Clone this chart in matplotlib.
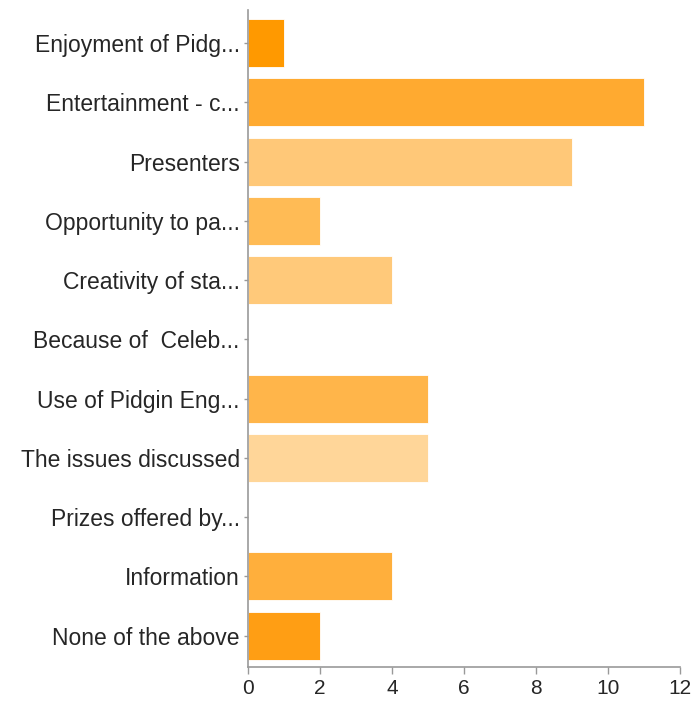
import matplotlib
matplotlib.use("Agg")
import matplotlib.pyplot as plt

# survey answers, top to bottom
categories = [
    "Enjoyment of Pidg...",
    "Entertainment - c...",
    "Presenters",
    "Opportunity to pa...",
    "Creativity of sta...",
    "Because of  Celeb...",
    "Use of Pidgin Eng...",
    "The issues discussed",
    "Prizes offered by...",
    "Information",
    "None of the above",
]
counts = [1, 11, 9, 2, 4, 0, 5, 5, 0, 4, 2]
bar_colors = [
    "#FF9900", "#FFAA30", "#FFC878", "#FFBB55", "#FFC97A", "#FFC97A",
    "#FFB54A", "#FFD699", "#FFD699", "#FFAF3C", "#FF9E14",
]
x_ticks = [0, 2, 4, 6, 8, 10, 12]

plt.rcParams['font.family'] = ['Liberation Sans', 'DejaVu Sans']

fig = plt.figure(figsize=(6.97, 7.02), dpi=100)
ax = fig.add_axes([0.3558, 0.0499, 0.62, 0.9359])

pos = list(range(len(categories)))
ax.barh(pos, counts, height=0.81, color=bar_colors, edgecolor="white",
        linewidth=0.6)

ax.set_ylim(len(categories) - 0.47, -0.56)
ax.set_xlim(0, 12)
ax.set_yticks(pos)
ax.set_yticklabels(categories, fontsize=16.5, color="#262626")
ax.set_xticks(x_ticks)
ax.set_xticklabels([str(t) for t in x_ticks], fontsize=15, color="#262626")

for side in ("top", "right"):
    ax.spines[side].set_visible(False)
for side in ("left", "bottom"):
    ax.spines[side].set_color("#999999")
    ax.spines[side].set_linewidth(1.2)

ax.tick_params(axis="y", length=3, width=1, color="#999999", pad=3)
ax.tick_params(axis="x", length=5, width=1, color="#999999", pad=4)

fig.savefig("out.png", dpi=100, facecolor="white")
